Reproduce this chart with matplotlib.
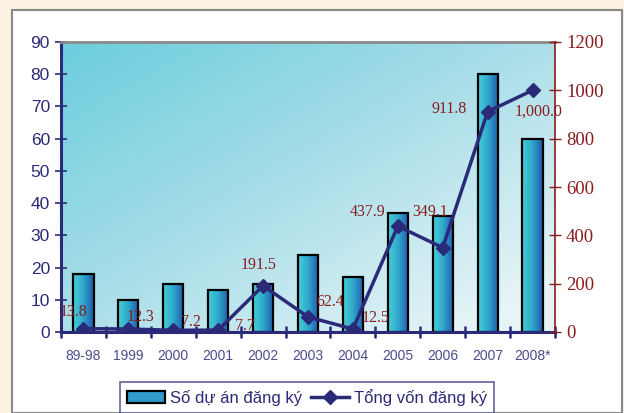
import numpy as np
import matplotlib
matplotlib.use('Agg')
import matplotlib.pyplot as plt
from matplotlib.patches import Rectangle
from matplotlib.colors import LinearSegmentedColormap

plt.rcParams['font.family'] = ['Liberation Sans', 'DejaVu Sans']

# data
years = ['89-98', '1999', '2000', '2001', '2002', '2003', '2004', '2005', '2006', '2007', '2008*']
so_du_an = [18, 10, 15, 13, 15, 24, 17, 37, 36, 80, 60]
tong_von = [13.8, 12.3, 7.2, 7.7, 191.5, 62.4, 12.5, 437.9, 349.1, 911.8, 1000.0]
von_labels = ['13.8', '12.3', '7.2', '7.7', '191.5', '62.4', '12.5', '437.9', '349.1', '911.8', '1,000.0']

# label offsets in points (dx, dy) from each marker
label_offsets = [(-7, 12), (9, 9), (13, 6), (19, 3), (-3, 15), (16, 11), (16, 8), (-22, 10), (-9, 26), (-28, 2), (4, -15)]

navy = '#2b2a78'
darkred = '#8b1c1c'

fig = plt.figure(figsize=(6.24, 4.13), dpi=100)
fig.patch.set_facecolor('#fdf1e1')
fig.patches.append(Rectangle((12 / 624, 0), 610 / 624, 1 - 10 / 413, transform=fig.transFigure,
                             facecolor='white', edgecolor='#8a8a8a', linewidth=1.5, zorder=-5))

ax = fig.add_axes([61 / 624, 1 - 332 / 413, 494 / 624, 290 / 413])
ax.set_facecolor('none')
x = np.arange(len(years))

# plot area gradient background
gx, gy = np.meshgrid(np.linspace(0, 1, 200), np.linspace(0, 1, 200))
g = np.clip(0.55 * gx + 0.55 * gy, 0, 1)
bg_cmap = LinearSegmentedColormap.from_list('bg', ['#6ccedd', '#a6dde8', '#e6f4f7'])
ax.imshow(g, extent=(-0.5, len(years) - 0.5, 0, 90), origin='upper', aspect='auto',
          cmap=bg_cmap, zorder=0)

# bars with horizontal gradient
bar_cmap = LinearSegmentedColormap.from_list('bar', ['#45d0d6', '#2fa6cc', '#2158ad'])
bars = ax.bar(x, so_du_an, width=0.45, facecolor='none', edgecolor='black', linewidth=1.6, zorder=2)
grad = np.linspace(0, 1, 64).reshape(1, -1)
for b in bars:
    bx, by, bw, bh = b.get_x(), b.get_y(), b.get_width(), b.get_height()
    im = ax.imshow(grad, extent=(bx, bx + bw, by, by + bh), aspect='auto', cmap=bar_cmap, zorder=1.5)
    im.set_clip_path(b)
ax.set_xlim(-0.5, len(years) - 0.5)
ax.set_ylim(0, 90)

ax.set_yticks(range(0, 91, 10))
ax.tick_params(axis='y', colors=navy, labelsize=12.5, direction='inout', length=8, width=1.2, pad=4)
ax.set_xticks(x)
ax.set_xticklabels(years)
ax.tick_params(axis='x', which='major', length=0, labelsize=10, labelcolor='#4b4b8c', pad=12)
ax.set_xticks(np.arange(-0.5, len(years), 1), minor=True)
ax.tick_params(axis='x', which='minor', direction='inout', length=8, width=1.8, color=navy)
for s in ['left', 'bottom']:
    ax.spines[s].set_color(navy)
    ax.spines[s].set_linewidth(2.2)
ax.spines['top'].set_color('#8a8a8a')
ax.spines['top'].set_linewidth(2)
ax.spines['right'].set_visible(False)

ax2 = ax.twinx()
ax2.set_ylim(0, 1200)
ax2.set_yticks(range(0, 1201, 200))
ax2.tick_params(axis='y', colors=darkred, labelsize=13.5, direction='inout', length=8, width=1, pad=4)
for lab in ax2.get_yticklabels():
    lab.set_family('Liberation Serif')
for s in ['left', 'bottom', 'top']:
    ax2.spines[s].set_visible(False)
ax2.spines['right'].set_color(darkred)
ax2.spines['right'].set_linewidth(1.2)

line, = ax2.plot(x, tong_von, color=navy, linewidth=2.5, marker='D', markersize=7,
                 markerfacecolor=navy, markeredgecolor=navy, zorder=3)
for xi, yi, txt, off in zip(x, tong_von, von_labels, label_offsets):
    ax2.annotate(txt, (xi, yi), xytext=off, textcoords='offset points', ha='center', va='center',
                 color=darkred, fontsize=11.5, family='Liberation Serif', zorder=4)

bar_handle = Rectangle((0, 0), 1, 1, facecolor='#2f9ccc', edgecolor='black', linewidth=1.6)
leg = fig.legend([bar_handle, line], ['Số dự án đăng ký', 'Tổng vốn đăng ký'], loc='lower center',
                 bbox_to_anchor=(307 / 624, -8 / 413), ncol=2, frameon=True, fancybox=False,
                 fontsize=12, handlelength=2.3, handletextpad=0.3, columnspacing=0.5,
                 borderpad=0.4, labelcolor=navy)
leg.get_frame().set_edgecolor('#3a3a80')
leg.get_frame().set_linewidth(1.2)

fig.savefig('out.png', dpi=100)
